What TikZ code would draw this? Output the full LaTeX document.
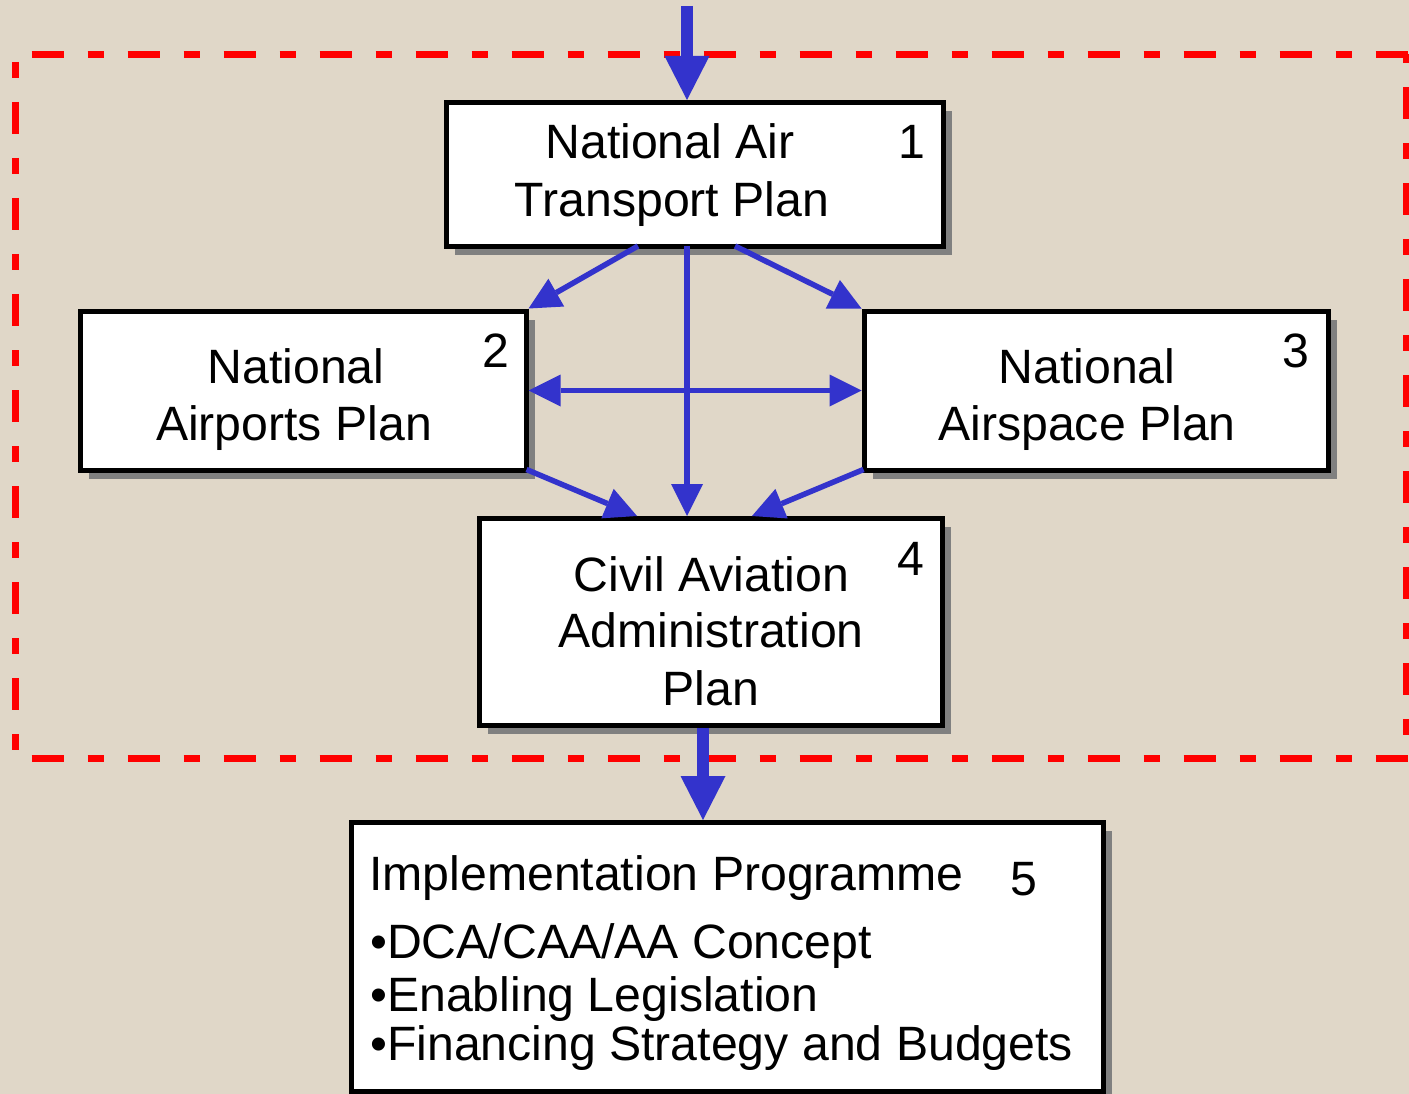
\documentclass[tikz,border=0pt]{standalone}
\usepackage{fontspec}
\setmainfont{Liberation Sans}
\usetikzlibrary{arrows.meta,shadows,calc}
\definecolor{bg}{RGB}{224,215,200}
\definecolor{arrowblue}{RGB}{51,51,204}
\definecolor{shadowgray}{RGB}{128,128,128}
\definecolor{framered}{RGB}{255,0,0}
\begin{document}
\begin{tikzpicture}[x=1pt,y=-1pt,
  planbox/.style={draw=black, line width=5pt, fill=white, rectangle, inner sep=0pt,
    drop shadow={shadow xshift=8.5pt, shadow yshift=-8.5pt, fill=shadowgray, opacity=1}},
  lbl/.style={font=\fontsize{48.2}{57}\selectfont, inner sep=0pt, anchor=base},
  lblw/.style={lbl, anchor=base west},
  arr/.style={draw=arrowblue, line width=5.5pt, -{Triangle[length=32pt,width=32pt,line width=0pt]}},
  arrtwo/.style={draw=arrowblue, line width=5.5pt, {Triangle[length=32pt,width=32pt,line width=0pt]}-{Triangle[length=32pt,width=32pt,line width=0pt]}},
  bigarr/.style={draw=arrowblue, line width=12pt, -{Triangle[length=44pt,width=45pt,line width=0pt]}},
  reddash/.style={draw=framered, line width=7pt, dash pattern=on 32pt off 24pt on 16pt off 24pt}
]
\useasboundingbox (0,0) rectangle (1409,1094);
\fill[bg] (0,0) rectangle (1409,1094);

% red dashed frame
\draw[reddash, dash phase=79.3pt] (15,54.5) -- (1408,54.5);
\draw[reddash, dash phase=48.5pt] (15.3,54.5) -- (15.3,758);
\draw[reddash, dash phase=79.3pt] (15,758) -- (1408,758);
\draw[reddash, dash phase=63.5pt] (1406.5,54.5) -- (1406.5,758);

% boxes
\node[planbox, minimum width=497pt, minimum height=144pt] (box1) at (695,174.5) {};
\node[planbox, minimum width=446pt, minimum height=159pt] (box2) at (303,390.5) {};
\node[planbox, minimum width=464pt, minimum height=159pt] (box3) at (1096,390.5) {};
\node[planbox, minimum width=463pt, minimum height=207pt] (box4) at (711,622) {};
\node[planbox, minimum width=752pt, minimum height=268.5pt] (box5) at (727.5,956.75) {};

% labels
\node[lbl] (t1a) at (670,159) {National Air};
\node[lbl] (t1b) at (672,217) {Transport Plan};
\node[lbl] (n1) at (912,159) {1};

\node[lbl] (t2a) at (296,383) {National};
\node[lbl] (t2b) at (294,440) {Airports Plan};
\node[lbl] (n2) at (495.5,367) {2};

\node[lbl] (t3a) at (1087,383) {National};
\node[lbl] (t3b) at (1087,440) {Airspace Plan};
\node[lbl] (n3) at (1296,367) {3};

\node[lbl] (t4a) at (711.5,591) {Civil Aviation};
\node[lbl] (t4b) at (711,647) {Administration};
\node[lbl] (t4c) at (711,705) {Plan};
\node[lbl] (n4) at (910.5,575) {4};

\node[lblw] (t5a) at (369,890) {Implementation Programme};
\node[lbl] (n5) at (1023.5,895) {5};
\node[lblw] (t5b) at (370,958) {•DCA/CAA/AA Concept};
\node[lblw] (t5c) at (370,1011) {•Enabling Legislation};
\node[lblw] (t5d) at (370,1060) {•Financing Strategy and Budgets};

% connectors
\coordinate (topin) at (687,6);
\coordinate (outx) at (703,0);
\draw[bigarr] (topin) -- (box1.north -| topin);
\draw[arr] ($(box1.south)+(-57,-3)$) -- (box2.north east);
\draw[arr] ($(box1.south)+(40,-3)$) -- (box3.north west);
\draw[arr] ($(box1.south -| topin)+(0,-3)$) -- (box4.north -| topin);
\draw[arrtwo] (box2.east) -- (box3.west);
\draw[arr] ($(box2.south east)+(-2,-3)$) -- ($(box4.north)+(-74,0)$);
\draw[arr] ($(box3.south west)+(2,-3)$) -- ($(box4.north)+(41,0)$);
\draw[bigarr] (box4.south -| outx) -- (box5.north -| outx);
\end{tikzpicture}
\end{document}
